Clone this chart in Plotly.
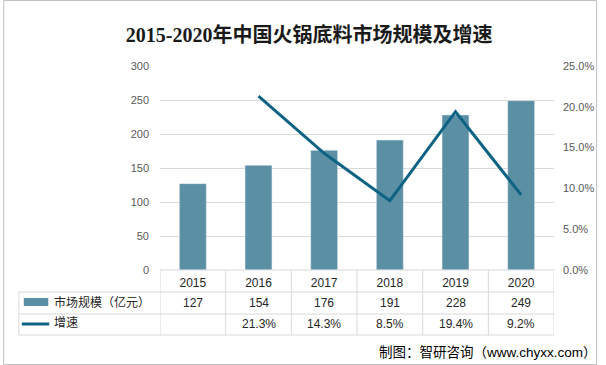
import plotly.graph_objects as go

years = ["2015", "2016", "2017", "2018", "2019", "2020"]
market = [127, 154, 176, 191, 228, 249]
growth = [None, 0.213, 0.143, 0.085, 0.194, 0.092]
growth_labels = ["", "21.3%", "14.3%", "8.5%", "19.4%", "9.2%"]
name_bar = "市场规模（亿元）"
name_line = "增速"
title = "2015-2020年中国火锅底料市场规模及增速"
source = "制图：智研咨询（www.chyxx.com）"

W, H = 606, 365
L, R, T, B = 160, 44, 66, 95
pw, ph = W - L - R, H - T - B

def px(x):
    return (x - L) / pw

def py(y):
    return (H - B - y) / ph

bar_color = "#5b8fa4"
line_color = "#0e6384"
grid = "#d9d9d9"
font_fam = "Liberation Sans, Noto Sans CJK SC, sans-serif"

fig = go.Figure()
fig.add_trace(go.Bar(x=years, y=market, name=name_bar, marker_color=bar_color,
                     width=0.41, yaxis="y"))
fig.add_trace(go.Scatter(x=years, y=growth, name=name_line, mode="lines",
                         line=dict(color=line_color, width=3), yaxis="y2",
                         connectgaps=False))

shapes = []
n = len(years)
# vertical table lines (category boundaries)
for i in range(n + 1):
    shapes.append(dict(type="line", xref="x", yref="paper", x0=i - 0.5, x1=i - 0.5,
                       y0=py(335), y1=0, line=dict(color=grid, width=1)))
# left border of legend column
shapes.append(dict(type="line", xref="paper", yref="paper", x0=px(16), x1=px(16),
                   y0=py(335), y1=py(292), line=dict(color=grid, width=1)))
# horizontal table lines
shapes.append(dict(type="line", xref="paper", yref="paper", x0=0, x1=1,
                   y0=0, y1=0, line=dict(color=grid, width=1)))
for yy in (292, 314, 335):
    shapes.append(dict(type="line", xref="paper", yref="paper", x0=px(16), x1=1,
                       y0=py(yy), y1=py(yy), line=dict(color=grid, width=1)))
# legend keys
shapes.append(dict(type="rect", xref="paper", yref="paper", x0=px(21), x1=px(46),
                   y0=py(306), y1=py(298), fillcolor=bar_color, line=dict(width=0)))
shapes.append(dict(type="line", xref="paper", yref="paper", x0=px(19), x1=px(47),
                   y0=py(324), y1=py(324), line=dict(color=line_color, width=3)))
# outer border
shapes.append(dict(type="rect", xref="paper", yref="paper", x0=px(0.5), x1=px(W - 0.5),
                   y0=py(H - 0.5), y1=py(0.5), line=dict(color="#bfbfbf", width=1)))

cell_font = dict(size=12, color="#262626", family=font_fam)
ann = []
for i, (v, g) in enumerate(zip(market, growth_labels)):
    ann.append(dict(x=i, y=py(303), xref="x", yref="paper", text=str(v), showarrow=False,
                    xanchor="center", yanchor="middle", font=cell_font))
    if g:
        ann.append(dict(x=i, y=py(324), xref="x", yref="paper", text=g, showarrow=False,
                        xanchor="center", yanchor="middle", font=cell_font))
ann.append(dict(x=px(50), y=py(302), xref="paper", yref="paper", text=name_bar,
                showarrow=False, xanchor="left", yanchor="middle", font=cell_font))
ann.append(dict(x=px(50), y=py(323), xref="paper", yref="paper", text=name_line,
                showarrow=False, xanchor="left", yanchor="middle", font=cell_font))
ann.append(dict(x=px(608), y=py(352), xref="paper", yref="paper", text=source,
                showarrow=False, xanchor="right", yanchor="middle",
                font=dict(size=13.5, color="#000000", family=font_fam)))

fig.update_layout(
    width=W, height=H,
    margin=dict(l=L, r=R, t=T, b=B),
    paper_bgcolor="white", plot_bgcolor="white",
    showlegend=False,
    title=dict(text="<b>" + title + "</b>", x=0.51, xref="container", xanchor="center",
               y=1 - 35 / H, yref="container", yanchor="middle",
               font=dict(size=20, color="#1a1a1a",
                         family="Liberation Serif, Noto Sans CJK SC, serif")),
    xaxis=dict(type="category", range=[-0.5, n - 0.5], showgrid=False, showline=False,
               ticks="", ticklabelstandoff=4,
               tickfont=dict(size=12, color="#262626", family=font_fam)),
    yaxis=dict(range=[0, 300], dtick=50, showgrid=True, gridcolor=grid, zeroline=False,
               showline=False, ticks="", ticklabelstandoff=10,
               tickfont=dict(size=11, color="#595959", family=font_fam)),
    yaxis2=dict(range=[0, 0.25], dtick=0.05, tickformat=".1%", overlaying="y",
                side="right", showgrid=False, zeroline=False, showline=False, ticks="",
                ticklabelstandoff=8,
                tickfont=dict(size=11, color="#595959", family=font_fam)),
    shapes=shapes, annotations=ann, bargap=0.6,
)

fig.write_html("out.html", config={"displayModeBar": False},
               post_script="document.body.style.margin='0';")
